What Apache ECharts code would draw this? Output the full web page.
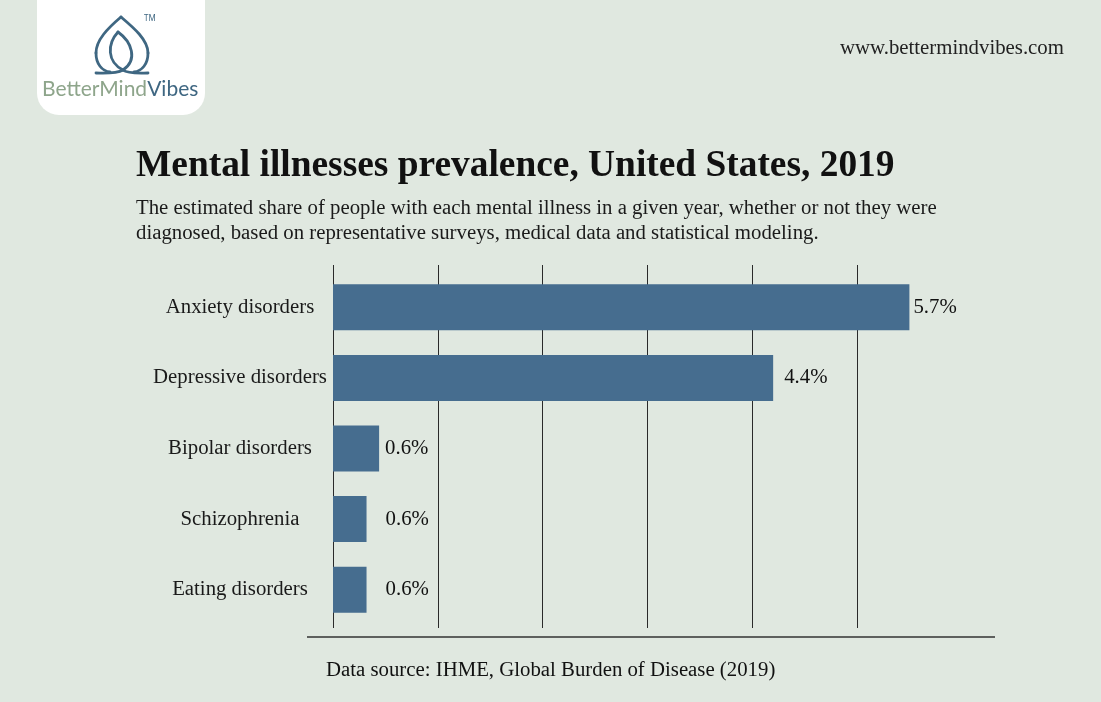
<!DOCTYPE html>
<html>
<head>
<meta charset="utf-8">
<script src="https://cdn.jsdelivr.net/npm/echarts@6/dist/echarts.min.js"></script>
<style>
html,body{margin:0;padding:0;background:#e0e8e0;}
#chart{width:1101px;height:702px;}
</style>
</head>
<body>
<div id="chart"></div>
<script>
// ---- data ----
const categories = ['Anxiety disorders', 'Depressive disorders', 'Bipolar disorders', 'Schizophrenia', 'Eating disorders'];
// bar lengths as drawn, measured against the gridlines (one gridline step = 1 unit)
const barValues = [5.5, 4.2, 0.44, 0.32, 0.32];
// the value labels printed next to the bars
const valueLabels = ['5.7%', '4.4%', '0.6%', '0.6%', '0.6%'];
const gridTicks = [0, 1, 2, 3, 4, 5];

const titleText = 'Mental illnesses prevalence, United States, 2019';
const subtitleText = 'The estimated share of people with each mental illness in a given year, whether or not they were\ndiagnosed, based on representative surveys, medical data and statistical modeling.';
const sourceText = 'Data source: IHME, Global Burden of Disease (2019)';
const urlText = 'www.bettermindvibes.com';

// ---- style ----
const SERIF = '"Liberation Serif", "DejaVu Serif", serif';
const BAR = '#466d8f';
const LOGO_BLUE = '#3f6782';
const labelGaps = [4, 11, 6, 19, 19];
const axisMax = 6;
const unitPx = 104.8;
const left = 333;
const right = 1101 - (left + axisMax * unitPx);

// logo strokes (decoration): [x1,y1,cpx1,cpy1,cpx2,cpy2,x2,y2]
const logoCurves = [
  [121, 17, 108, 28, 96, 40, 96, 53],
  [96, 53, 96, 64, 102, 71, 110, 72],
  [121, 17, 134, 28, 148, 40, 148, 53],
  [148, 53, 148, 64, 142, 71, 134, 72],
  [118, 32, 107, 44, 107, 62, 123, 70],
  [118, 32, 132, 42, 138, 60, 123, 70],
  [123, 70, 128, 74, 140, 73, 148, 73],
  [123, 70, 116, 74, 104, 73, 96, 73]
];

const chart = echarts.init(document.getElementById('chart'), null, {renderer: 'canvas'});

const graphics = [
  {type: 'line', shape: {x1: 307, y1: 637, x2: 995, y2: 637},
   style: {stroke: '#333', lineWidth: 1.5}},
  {type: 'rect', shape: {x: 37, y: -30, width: 168, height: 145, r: [0, 0, 22, 22]},
   style: {fill: '#ffffff'}}
];
logoCurves.forEach(c => graphics.push({
  type: 'bezierCurve',
  shape: {x1: c[0], y1: c[1], cpx1: c[2], cpy1: c[3], cpx2: c[4], cpy2: c[5], x2: c[6], y2: c[7]},
  style: {fill: null, stroke: LOGO_BLUE, lineWidth: 2.8, lineCap: 'round'}
}));
graphics.push(
  {type: 'text', x: 144, y: 15, style: {text: 'TM', font: '8px "Noto Sans", sans-serif', fill: LOGO_BLUE}},
  {type: 'text', x: 42, y: 89,
   style: {text: '{a|BetterMind}{b|Vibes}', verticalAlign: 'middle',
     rich: {
       a: {fontFamily: 'Lato, "Noto Sans", sans-serif', fontSize: 21, fill: '#8ea58b'},
       b: {fontFamily: 'Lato, "Noto Sans", sans-serif', fontSize: 21, fill: LOGO_BLUE}
     }}}
);

const option = {
  backgroundColor: '#e0e8e0',
  animation: false,
  title: [
    {text: titleText, left: 131, top: 143,
     textStyle: {fontFamily: SERIF, fontWeight: 'bold', fontSize: 37.4, color: '#111'}},
    {text: subtitleText, left: 131, top: 191,
     textStyle: {fontFamily: SERIF, fontWeight: 'normal', fontSize: 20.8, lineHeight: 25, color: '#1a1a1a'}},
    {text: urlText, left: 835, top: 33,
     textStyle: {fontFamily: SERIF, fontWeight: 'normal', fontSize: 20.8, color: '#222'}},
    {text: sourceText, left: 321, top: 655,
     textStyle: {fontFamily: SERIF, fontWeight: 'normal', fontSize: 20.8, color: '#111'}}
  ],
  grid: [
    {left: left, right: right, top: 265, bottom: 702 - 628, containLabel: false},
    {left: left, right: right, top: 272, bottom: 702 - 625, containLabel: false}
  ],
  xAxis: [
    {type: 'value', gridIndex: 0, min: gridTicks[0], max: axisMax, interval: 1,
     axisLine: {show: false}, axisTick: {show: false}, axisLabel: {show: false},
     splitLine: {show: true, showMinLine: true, showMaxLine: false, lineStyle: {color: '#2a2a2a', width: 1}}},
    {type: 'value', gridIndex: 1, min: 0, max: axisMax, interval: 1,
     axisLine: {show: false}, axisTick: {show: false}, axisLabel: {show: false}, splitLine: {show: false}}
  ],
  yAxis: [
    {type: 'category', gridIndex: 0, data: categories, inverse: true, show: false},
    {type: 'category', gridIndex: 1, data: categories, inverse: true,
     axisLine: {show: false}, axisTick: {show: false}, splitLine: {show: false},
     axisLabel: {align: 'center', margin: 93, fontFamily: SERIF, fontSize: 20.8, color: '#1a1a1a'}}
  ],
  series: [{
    type: 'bar',
    xAxisIndex: 1, yAxisIndex: 1,
    barWidth: 46,
    data: barValues.map((v, i) => ({
      value: v,
      label: {distance: labelGaps[i]}
    })),
    itemStyle: {color: BAR},
    label: {
      show: true, position: 'right',
      fontFamily: SERIF, fontSize: 20.8, color: '#111',
      formatter: p => valueLabels[p.dataIndex]
    }
  }],
  graphic: graphics
};
chart.setOption(option);
</script>
</body>
</html>
